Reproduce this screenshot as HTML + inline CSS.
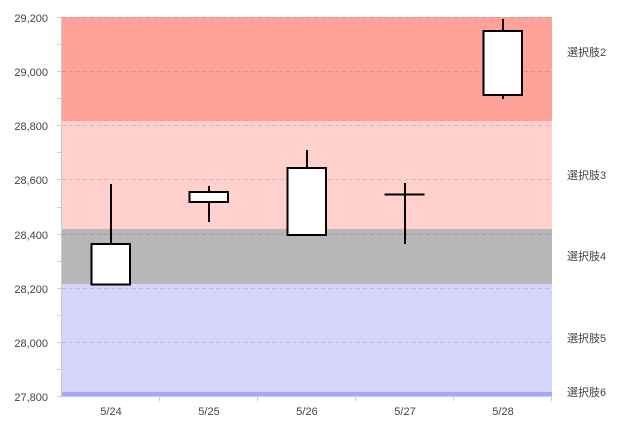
<!DOCTYPE html>
<html><head><meta charset="utf-8"><style>
html,body{margin:0;padding:0;background:#fff;}
svg{display:block;}
text{font-family:"Liberation Sans","Noto Sans CJK JP",sans-serif;font-size:11px;fill:#444;}
</style></head><body>
<svg width="617" height="427" xmlns="http://www.w3.org/2000/svg">
<rect x="61.5" y="17" width="490.5" height="104" fill="#ffa39a"/>
<rect x="61.5" y="121" width="490.5" height="108" fill="#ffd0cc"/>
<rect x="61.5" y="229" width="490.5" height="55" fill="#b7b7b7"/>
<rect x="61.5" y="284" width="490.5" height="108" fill="#d5d5fc"/>
<rect x="61.5" y="392" width="490.5" height="4" fill="#a6a6fb"/>
<g stroke="#000" stroke-opacity="0.12" stroke-dasharray="4,3" stroke-width="1">
<line x1="62" x2="552" y1="17.5" y2="17.5"/>
<line x1="62" x2="552" y1="71.5" y2="71.5"/>
<line x1="62" x2="552" y1="125.5" y2="125.5"/>
<line x1="62" x2="552" y1="179.5" y2="179.5"/>
<line x1="62" x2="552" y1="234.5" y2="234.5"/>
<line x1="62" x2="552" y1="288.5" y2="288.5"/>
<line x1="62" x2="552" y1="342.5" y2="342.5"/>
</g>
<g stroke="#ccc" stroke-width="1">
<line x1="61.5" x2="61.5" y1="17" y2="397"/>
<line x1="61" x2="552" y1="396.5" y2="396.5"/>
<line x1="57" x2="61" y1="17.5" y2="17.5"/><line x1="57" x2="61" y1="44.5" y2="44.5"/>
<line x1="57" x2="61" y1="71.5" y2="71.5"/><line x1="57" x2="61" y1="98.5" y2="98.5"/>
<line x1="57" x2="61" y1="125.5" y2="125.5"/><line x1="57" x2="61" y1="152.5" y2="152.5"/>
<line x1="57" x2="61" y1="179.5" y2="179.5"/><line x1="57" x2="61" y1="207.5" y2="207.5"/>
<line x1="57" x2="61" y1="234.5" y2="234.5"/><line x1="57" x2="61" y1="261.5" y2="261.5"/>
<line x1="57" x2="61" y1="288.5" y2="288.5"/><line x1="57" x2="61" y1="315.5" y2="315.5"/>
<line x1="57" x2="61" y1="342.5" y2="342.5"/><line x1="57" x2="61" y1="369.5" y2="369.5"/>
<line x1="57" x2="61" y1="396.5" y2="396.5"/>
<line x1="159.5" x2="159.5" y1="397" y2="401"/><line x1="257.5" x2="257.5" y1="397" y2="401"/>
<line x1="355.5" x2="355.5" y1="397" y2="401"/><line x1="453.5" x2="453.5" y1="397" y2="401"/>
<line x1="551.5" x2="551.5" y1="397" y2="401"/>
</g>
<g text-anchor="end">
<text x="48" y="22">29,200</text><text x="48" y="76">29,000</text>
<text x="48" y="130">28,800</text><text x="48" y="184">28,600</text>
<text x="48" y="239">28,400</text><text x="48" y="293">28,200</text>
<text x="48" y="347">28,000</text><text x="48" y="401">27,800</text>
</g>
<g text-anchor="middle">
<text x="111" y="415">5/24</text><text x="209" y="415">5/25</text>
<text x="307" y="415">5/26</text><text x="405" y="415">5/27</text>
<text x="503" y="415">5/28</text>
</g>
<g>
<text x="567" y="56">選択肢2</text><text x="567" y="179">選択肢3</text>
<text x="567" y="260">選択肢4</text><text x="567" y="342">選択肢5</text>
<text x="567" y="396">選択肢6</text>
</g>
<g stroke="#000" stroke-width="2" fill="#fff">
<line x1="111" x2="111" y1="184" y2="244"/>
<rect x="91.5" y="244" width="38.5" height="40.5"/>
<line x1="209" x2="209" y1="186" y2="222"/>
<rect x="189.5" y="192" width="38.5" height="10"/>
<line x1="307" x2="307" y1="150" y2="168"/>
<rect x="287.5" y="168" width="38.5" height="67"/>
<line x1="405" x2="405" y1="183" y2="244"/>
<line x1="384.5" x2="424.5" y1="194.5" y2="194.5"/>
<line x1="503" x2="503" y1="19" y2="99"/>
<rect x="483.5" y="31" width="38.5" height="64"/>
</g>
</svg>
</body></html>
